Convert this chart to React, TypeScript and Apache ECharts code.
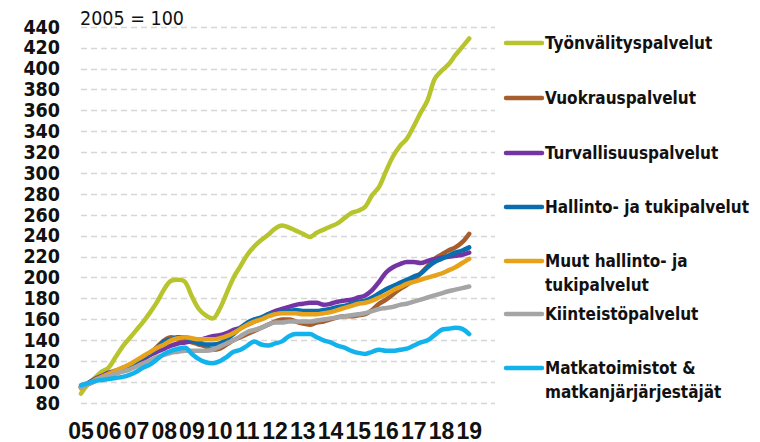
import React, { useEffect, useRef } from "react";
import * as echarts from "echarts";

const firstYear = 2005;
const stepsPerYear = 4; // quarterly readings
const yearTicks = ["05", "06", "07", "08", "09", "10", "11", "12", "13", "14", "15", "16", "17", "18", "19"];
const yTickMin = 80;
const yTickMax = 440;
const yTickStep = 20;
const baseNote = "2005 = 100";

const seriesNames = [
  "Työnvälityspalvelut",
  "Vuokrauspalvelut",
  "Turvallisuuspalvelut",
  "Hallinto- ja tukipalvelut",
  "Muut hallinto- ja\ntukipalvelut",
  "Kiinteistöpalvelut",
  "Matkatoimistot &\nmatkanjärjärjestäjät",
];
const seriesColors = ["#B8C42D", "#A65E2E", "#7434A3", "#0A6EAE", "#E6A21A", "#A5A5A5", "#12B2EC"];

const tyonvalitys = [
  89, 98, 104, 110, 114, 124, 134, 142, 150, 158, 167, 177, 189, 197, 198, 196,
  182, 170, 164, 161, 170, 185, 200, 211, 222, 230, 236, 241, 247, 250, 248, 245,
  242, 239, 243, 246, 249, 252, 257, 262, 264, 268, 279, 287, 302, 316, 326, 333,
  345, 358, 370, 390, 398, 404, 413, 421, 429,
];
const vuokraus = [
  95, 98, 101, 104, 106, 109, 112, 115, 119, 123, 128, 134, 140, 143, 141, 140,
  138, 136, 134, 131, 132, 136, 140, 143, 146, 149, 152, 155, 158, 160, 160, 158,
  156, 155, 157, 158, 160, 162, 163, 163, 164, 165, 169, 175, 179, 184, 189, 193,
  198, 204, 211, 218, 222, 226, 229, 234, 242,
];
const turvallisuus = [
  95, 99, 103, 106, 109, 111, 113, 116, 119, 122, 126, 129, 132, 135, 137, 138,
  139, 140, 142, 144, 145, 147, 150, 152, 155, 158, 161, 165, 168, 170, 172, 174,
  175, 176, 176, 174, 175, 177, 178, 179, 181, 183, 188, 196, 205, 210, 213, 215,
  215, 214, 216, 218, 219, 220, 221, 222, 224,
];
const hallinto = [
  95, 98, 101, 104, 107, 110, 113, 116, 120, 124, 128, 133, 139, 141, 143, 143,
  140, 137, 136, 136, 137, 141, 146, 152, 157, 160, 162, 165, 166, 167, 168, 169,
  168, 168, 168, 169, 170, 172, 173, 175, 177, 178, 181, 185, 189, 192, 195, 198,
  201, 204, 210, 215, 218, 221, 224, 226, 229,
];
const muutHallinto = [
  94, 98, 102, 105, 108, 111, 114, 117, 121, 125, 129, 133, 136, 140, 142, 143,
  142, 141, 141, 141, 142, 144, 147, 151, 155, 158, 160, 163, 165, 166, 166, 166,
  165, 165, 165, 166, 167, 169, 171, 173, 175, 176, 178, 181, 184, 188, 191, 194,
  196, 198, 200, 202, 204, 207, 210, 214, 218,
];
const kiinteisto = [
  95, 98, 101, 104, 106, 108, 110, 112, 115, 118, 121, 124, 126, 128, 129, 130,
  130, 130, 130, 131, 134, 137, 140, 144, 148, 150, 152, 155, 157, 157, 158, 158,
  158, 158, 159, 160, 161, 162, 163, 164, 165, 166, 168, 170, 171, 172, 174, 175,
  177, 179, 181, 183, 185, 187, 188.5, 190, 191.5,
];
const matkatoimistot = [
  97, 99, 101, 102, 103, 104, 105, 107, 110, 114, 117, 122, 127, 130, 132, 133,
  127, 122, 119, 118, 120, 124, 129, 131, 135, 139, 136, 135, 137, 139, 144, 146,
  146, 146, 143, 140, 138, 135, 133, 130, 128, 127, 129, 131, 130, 130, 131, 132,
  135, 138, 140, 145, 150, 151, 152, 151, 146,
];

const seriesValues = [tyonvalitys, vuokraus, turvallisuus, hallinto, muutHallinto, kiinteisto, matkatoimistot];

const condensed = "'DejaVu Sans Condensed', 'DejaVu Sans', sans-serif";
const narrow = "'Liberation Sans', Arial, sans-serif";

export default function App() {
  const ref = useRef<HTMLDivElement>(null);

  useEffect(() => {
    if (!ref.current) return;
    const chart = echarts.init(ref.current, undefined, { renderer: "svg" });

    const series = seriesValues.map((vals, si) => ({
      name: seriesNames[si],
      type: "line",
      data: vals.map((v, i) => [firstYear + i / stepsPerYear, v]),
      showSymbol: false,
      smooth: 0.35,
      lineStyle: { width: 4.5, color: seriesColors[si], cap: "round", join: "round" },
      itemStyle: { color: seriesColors[si] },
      z: 2 + si,
    }));

    const legendTop = [43, 98, 153, 207, 261, 314, 368];
    const legendGraphics: any[] = [];
    seriesNames.forEach((name, i) => {
      legendGraphics.push({
        type: "line",
        shape: { x1: 506, y1: legendTop[i], x2: 542, y2: legendTop[i] },
        style: { stroke: seriesColors[i], lineWidth: 4.5, lineCap: "round" },
      });
      legendGraphics.push({
        type: "text",
        x: 545,
        y: legendTop[i] - 12,
        style: {
          text: name,
          font: `bold 17px ${condensed}`,
          fill: "#111",
          lineHeight: 24,
          textVerticalAlign: "top",
        },
      });
    });

    chart.setOption({
      animation: false,
      backgroundColor: "#fff",
      grid: { left: 81, right: 265, top: 27, bottom: 38 },
      xAxis: {
        type: "value",
        min: firstYear,
        max: 2019.93,
        interval: 1,
        axisLine: { show: false },
        axisTick: { show: false },
        splitLine: { show: false },
        axisLabel: {
          margin: 16,
          color: "#111",
          fontFamily: narrow,
          fontWeight: "bold",
          fontSize: 23,
          showMinLabel: true,
          showMaxLabel: false,
          hideOverlap: false,
          formatter: (v: number) => {
            const idx = Math.round(v - firstYear);
            return Math.abs(v - firstYear - idx) < 1e-6 ? yearTicks[idx] ?? "" : "";
          },
        },
      },
      yAxis: {
        type: "value",
        min: yTickMin,
        max: yTickMax,
        interval: yTickStep,
        axisLine: { show: false },
        axisTick: { show: false },
        splitLine: { lineStyle: { color: "#d6d6d6", width: 1.3, type: [6, 4] } },
        axisLabel: {
          margin: 21,
          color: "#111",
          fontFamily: condensed,
          fontWeight: "bold",
          fontSize: 19.5,
        },
      },
      graphic: [
        {
          type: "text",
          x: 80,
          y: 18,
          style: {
            text: baseNote,
            font: `19.5px ${condensed}`,
            fill: "#111",
            textVerticalAlign: "middle",
          },
        },
        ...legendGraphics,
      ],
      series,
    });

    return () => chart.dispose();
  }, []);

  return <div ref={ref} style={{ width: 760, height: 442, position: "absolute", left: 0, top: 0 }} />;
}
